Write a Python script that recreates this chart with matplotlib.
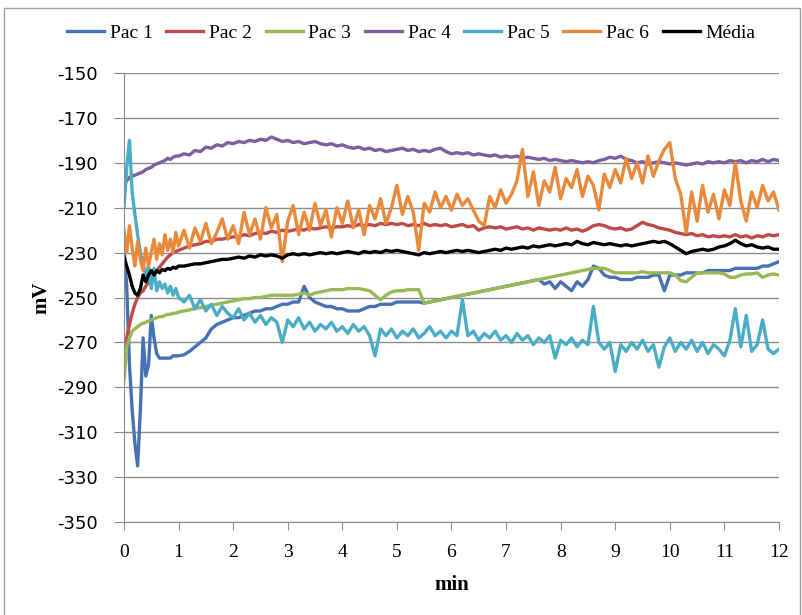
import matplotlib.pyplot as plt
import numpy as np
from matplotlib.patches import Rectangle

plt.rcParams['axes.unicode_minus'] = False

# sampling grid: every 3 s for the first minute, then every 6 s
minutes = np.concatenate([np.linspace(0, 1, 21), np.linspace(1.1, 12, 110)])

pac1 = [-227, -245, -280, -300, -315, -325, -300, -268, -285, -280, -258, -268, -275, -277, -277, -277, -277, -277, -276, -276, -276,
        -275.5, -274, -272, -270, -268, -264, -262, -261, -260, -259,
        -259, -258, -257, -256, -256, -255, -255, -254, -253, -253,
        -252, -252, -245, -250, -252, -253, -254, -254, -255, -255,
        -256, -256, -256, -255, -254, -254, -253, -253, -253, -252,
        -252, -252, -252, -252, -252.5, -252, -251.5, -251, -250.5, -250,
        -249.5, -249, -248.5, -248, -247.5, -247, -246.5, -246, -245.5, -245,
        -244.5, -244, -243.5, -243, -242.5, -242, -244, -243, -246, -243,
        -245, -247, -243, -245, -242, -236, -237, -240, -241, -241,
        -242, -242, -242, -241, -241, -241, -240, -240, -247, -240,
        -240, -240, -239, -239, -239, -239, -238, -238, -238, -238,
        -238, -237, -237, -237, -237, -237, -236, -236, -235, -234]

pac2 = [-280, -268, -262, -257, -253, -250, -248, -247, -245, -243, -241, -239.5, -238, -236.5, -235, -233.5, -232, -231, -230, -229.5, -229,
        -228, -227, -226.5, -226, -225, -225, -224, -224, -223.5, -223,
        -223, -222, -222.5, -221.5, -221, -221.5, -220.5, -221, -220, -220.5,
        -220, -219.5, -220, -219, -219.5, -219, -218.5, -219, -218.5, -218.5,
        -218, -218.5, -217.5, -218, -217.5, -218, -217, -217.5, -217, -217.5,
        -217, -218, -217.5, -218, -217, -218, -217.5, -218, -217.5, -218.5,
        -218, -217.5, -218.5, -218, -220, -219, -218.5, -219, -218.5, -219.5,
        -219, -218.5, -219.5, -219, -220, -219, -219.5, -220, -219.5, -220,
        -219, -220, -219.5, -220.5, -219.5, -218, -217.5, -218, -219, -219.5,
        -219, -220, -219.5, -218, -216.5, -217.5, -218, -219, -219.5, -220,
        -221, -221.5, -222, -221.5, -222.5, -222, -223, -222.5, -223, -222.5,
        -223, -222, -223, -222.5, -223.5, -222.5, -223, -222, -222.5, -222]

pac3 = [-287, -272, -268, -265, -264, -263, -262, -261.5, -261, -260.5, -260, -259.5, -259, -258.5, -258.5, -258, -257.5, -257.5, -257, -257, -256.5,
        -256, -255.5, -255, -254.5, -254, -253.5, -253, -252.5, -252, -251.5,
        -251, -250.5, -250.5, -250, -250, -249.5, -249, -249, -249, -249,
        -249, -248.5, -248, -249, -248, -247.5, -247, -246.5, -246.5, -246.5,
        -246, -246, -246, -246.5, -247, -249, -251, -249, -247.5, -247,
        -247, -246.5, -246.5, -246.5, -252.5, -252, -251.5, -251, -250.5, -250,
        -249.5, -249, -248.5, -248, -247.5, -247, -246.5, -246, -245.5, -245,
        -244.5, -244, -243.5, -243, -242.5, -242, -241.5, -241, -240.5, -240,
        -239.5, -239, -238.5, -238, -237.5, -237, -237, -237, -238, -239,
        -239, -239, -239, -239, -238.5, -239, -239, -239, -239, -239,
        -240, -242.5, -243, -241, -239, -239, -239, -239, -239, -239.5,
        -241, -241, -240, -239.5, -239.5, -239, -241, -240, -239.5, -240]

pac4 = [-200, -198, -196.5, -196, -195.5, -195, -194.5, -194, -193, -192.5, -192, -191, -190.5, -190, -189.5, -189, -188, -188.5, -187.5, -187, -187,
        -186, -186.5, -184.5, -185, -183, -183.5, -182, -182.5, -181, -181.5,
        -180.5, -181, -180, -180.5, -179.5, -180, -178.5, -179.5, -180.5, -180,
        -181, -180.5, -181.5, -181, -180.5, -181.5, -182, -181.5, -182.5, -182,
        -183, -183.5, -183, -184, -183.5, -184.5, -184, -185, -184.5, -184,
        -183.5, -184.5, -184, -185, -184.5, -185, -184, -183.5, -185, -186,
        -185.5, -186, -185.5, -186.5, -186, -186.5, -187, -186.5, -187.5, -187,
        -187.5, -187, -188, -187.5, -188, -188.5, -188, -189, -188.5, -189,
        -189.5, -189, -189.5, -190, -189.5, -190, -189, -188.5, -187.5, -188,
        -187, -188.5, -189, -190, -189.5, -190.5, -190, -189.5, -190, -190.5,
        -190, -190.5, -191, -190.5, -190, -190.5, -189.5, -190, -189.5, -190,
        -189, -189.5, -189, -190, -189, -189.5, -188.5, -189.5, -188.5, -189]

pac5 = [-210, -192, -180, -203, -213, -222, -230, -235, -240, -236, -246, -237, -247, -243, -246, -244, -248, -245, -249, -246, -250,
        -252, -249, -255, -251, -256, -253, -258, -254, -257, -259,
        -255, -260, -257, -261, -258, -262, -259, -261, -270, -260,
        -263, -259, -264, -261, -265, -262, -264, -261, -265, -263,
        -266, -262, -265, -263, -267, -276, -264, -267, -264, -268,
        -265, -267, -264, -268, -266, -263, -267, -265, -268, -265,
        -267, -251, -267, -265, -269, -266, -268, -265, -269, -267,
        -270, -266, -269, -267, -271, -268, -270, -267, -277, -269,
        -271, -268, -272, -269, -271, -254, -270, -273, -270, -283,
        -271, -274, -270, -273, -269, -274, -271, -281, -272, -268,
        -274, -270, -273, -269, -274, -270, -275, -271, -273, -276,
        -269, -255, -272, -258, -274, -271, -260, -273, -275, -273]

pac6 = [-220, -230, -218, -228, -236, -225, -233, -238, -228, -236, -230, -224, -233, -226, -231, -222, -229, -224, -230, -221, -227,
        -220, -228, -219, -225, -217, -226, -221, -215, -224, -218,
        -226, -212, -222, -215, -224, -210, -219, -213, -234, -216,
        -209, -222, -212, -220, -208, -218, -211, -223, -210, -217,
        -207, -219, -211, -222, -209, -215, -206, -217, -210, -200,
        -213, -205, -212, -229, -208, -212, -203, -210, -205, -211,
        -204, -209, -206, -211, -216, -218, -205, -210, -202, -208,
        -204, -198, -184, -205, -194, -209, -198, -203, -192, -206,
        -197, -201, -193, -205, -196, -200, -211, -195, -201, -193,
        -199, -188, -197, -190, -199, -187, -196, -189, -184, -181,
        -197, -204, -221, -203, -216, -200, -212, -204, -215, -202,
        -209, -190, -207, -216, -203, -210, -200, -207, -203, -211]

media = [-232, -236, -240, -245, -248, -249, -246, -240, -243, -240, -238, -240, -238, -239, -237.5, -238, -237, -237.5, -236.5, -237, -236,
         -236, -235.5, -235, -235, -234.5, -234, -233.5, -233, -233, -232.5,
         -232, -232.5, -231.5, -232, -231, -231.5, -231, -231.5, -232.5, -231,
         -230.5, -231, -230.5, -231, -230.5, -230, -230.5, -230, -230.5, -230,
         -229.5, -230, -230.5, -229.5, -230, -229.5, -230, -229, -229.5, -229,
         -229.5, -230, -230.5, -231, -230, -230.5, -230, -229.5, -230, -229.5,
         -229, -229.5, -229, -229.5, -230, -229.5, -229, -228.5, -229, -228,
         -228.5, -228, -227.5, -228, -227, -227.5, -227, -226.5, -227, -226.5,
         -226, -226.5, -225, -226, -226.5, -225.5, -226, -226.5, -226, -226.5,
         -227, -226.5, -227, -226.5, -226, -225.5, -225, -225.5, -225, -226,
         -227.5, -229, -230.5, -229.5, -229, -228.5, -229, -228.5, -227.5, -227,
         -226, -224.5, -226, -227, -226.5, -227.5, -228, -227.5, -228.5, -228.5]

labels = ['Pac 1', 'Pac 2', 'Pac 3', 'Pac 4', 'Pac 5', 'Pac 6', 'Média']
series = [pac1, pac2, pac3, pac4, pac5, pac6, media]
colors = ['#4672B4', '#BE4B48', '#98B954', '#7D5FA0', '#4BACC6', '#E8893B', '#000000']

serif = 'Liberation Serif'
gray = '#8c8c8c'

fig = plt.figure(figsize=(8.03, 6.15), dpi=100)
ax = fig.add_axes([0.1544, 0.1512, 0.8157, 0.7301])

for vals, lab, col in zip(series, labels, colors):
    ax.plot(minutes, vals, color=col, lw=2.4, label=lab)

ax.set_xlim(0, 12)
ax.set_ylim(-350, -150)
ax.set_xticks(range(0, 13))
ax.set_yticks(range(-350, -149, 20))
ax.yaxis.grid(True, color=gray, lw=1)
ax.set_axisbelow(True)
for side in ['top', 'right']:
    ax.spines[side].set_visible(False)
for side in ['left', 'bottom']:
    ax.spines[side].set_color(gray)
ax.tick_params(axis='y', length=7, color=gray, pad=12, labelsize=13)
ax.tick_params(axis='x', length=6, color=gray, pad=10)
for lbl in ax.get_xticklabels():
    lbl.set_fontfamily(serif)
    lbl.set_fontsize(14)

ax.set_xlabel('min', fontfamily=serif, fontsize=15, fontweight='bold', labelpad=10)
ax.set_ylabel('mV', fontfamily=serif, fontsize=15, fontweight='bold', labelpad=4)

fig.legend(loc='center', bbox_to_anchor=(0.512, 1 - 33 / 615), ncol=7, frameon=False,
           prop={'family': serif, 'size': 14}, handlelength=1.9, handletextpad=0.3,
           columnspacing=0.7)

fig.patches.append(Rectangle((4 / 803, -0.01), 796 / 803, 1.01 - 8 / 615,
                             transform=fig.transFigure, fill=False,
                             edgecolor='#a0a0a0', lw=1))

fig.savefig('out.png', dpi=100)
